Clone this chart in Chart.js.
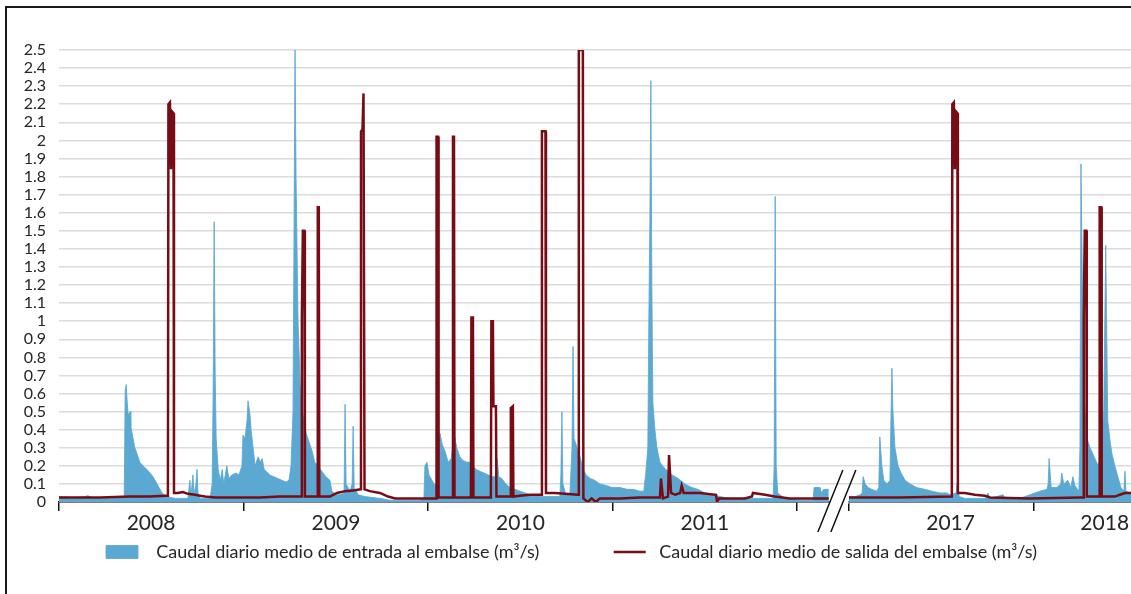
<!DOCTYPE html>
<html>
<head>
<meta charset="utf-8">
<script src="https://cdn.jsdelivr.net/npm/chart.js@4.4.1/dist/chart.umd.min.js"></script>
<style>
  html, body { margin: 0; padding: 0; background: #fff; overflow: hidden; }
  #wrap { position: relative; width: 1131px; height: 594px; }
  #frame { position: absolute; left: 5px; top: 6px; width: 1140px; height: 600px;
           border-left: 2px solid #1a1a1a; border-top: 2px solid #1a1a1a; pointer-events: none; }
  canvas { display: block; }
</style>
</head>
<body>
<div id="wrap">
  <canvas id="caudalChart" width="1131" height="594"></canvas>
  <div id="frame"></div>
</div>
<script>
// x = days along the axis (2008 starts at 0, the axis jumps from 2011 to 2017 at the break)
const yearLabels = ['2008', '2009', '2010', '2011', '2017', '2018'];
const yearLabelDays = [182, 548, 913, 1278, 1764, 2069];
const yearTickDays = [0, 365, 730, 1095, 1460, 1563, 1928];
const breakFrom = 1523, breakTo = 1563;
const yTicks = [0, 0.1, 0.2, 0.3, 0.4, 0.5, 0.6, 0.7, 0.8, 0.9, 1, 1.1, 1.2, 1.3, 1.4, 1.5, 1.6, 1.7, 1.8, 1.9, 2, 2.1, 2.2, 2.3, 2.4, 2.5];

// Caudal de entrada (m3/s)
const inDays = [
  0, 32, 51, 57, 65, 101, 121, 129,
  131, 133, 135, 137, 141, 142, 146, 150, 154, 160, 166, 174, 180, 186, 192, 198, 204, 212,
  230, 255, 259, 261, 265, 267, 271, 273, 275, 279,
  299, 303, 305, 307, 309, 311, 315, 319, 323, 326, 332, 336, 342, 350, 356, 362,
  364, 368, 372, 374, 378, 380, 384, 388, 394, 398, 402, 406, 410, 417, 425, 433, 441, 449, 455,
  459, 463, 467, 469, 473, 477, 481, 485, 489, 495, 501, 506, 512, 520, 528, 536,
  540, 548, 556, 564, 566, 568, 576, 580, 582, 584, 592, 605, 635, 655, 714, 722,
  724, 728, 732, 738, 744, 748, 750, 754, 758, 764, 770, 776, 780, 783, 787, 793, 799, 807, 813, 819, 825,
  833, 841, 849, 857, 863, 867, 870, 876, 884, 892, 902, 912, 922, 932, 952, 971, 991,
  993, 995, 997, 1003, 1011, 1015, 1017, 1019, 1023, 1027, 1031, 1037, 1043, 1051, 1060, 1070, 1084, 1094, 1110, 1124, 1136, 1149, 1157,
  1161, 1165, 1167, 1169, 1171, 1173, 1175, 1179, 1183, 1189, 1197, 1205, 1213, 1225, 1238, 1252, 1264, 1278, 1292, 1308, 1327, 1387,
  1413, 1415, 1417, 1419, 1422, 1436, 1466, 1492, 1494, 1506, 1508, 1513, 1521, 1523,
  1543,
  1563, 1575, 1585, 1589, 1591, 1595, 1601, 1608, 1618, 1622, 1624, 1628, 1632, 1638, 1644,
  1646, 1648, 1650, 1654, 1660, 1666, 1674, 1684, 1697, 1713, 1727, 1743, 1757, 1763, 1775, 1777, 1781,
  1792, 1812, 1832, 1838, 1842, 1868, 1872, 1901, 1921, 1941, 1955, 1957, 1959, 1963,
  1974, 1982, 1984, 1988, 1996, 2002, 2006, 2010, 2018, 2020, 2022, 2024, 2028, 2034, 2040, 2048, 2056,
  2061, 2067, 2071, 2075, 2079, 2083, 2089, 2095, 2101, 2107, 2109, 2111, 2121
];
const inFlow = [
  0.03, 0.025, 0.03, 0.035, 0.025, 0.02, 0.025, 0.03,
  0.62, 0.65, 0.55, 0.48, 0.5, 0.42, 0.36, 0.3, 0.27, 0.22, 0.2, 0.18, 0.16, 0.14, 0.11, 0.08, 0.05, 0.03,
  0.02, 0.02, 0.12, 0.03, 0.15, 0.04, 0.1, 0.18, 0.05, 0.02,
  0.02, 0.1, 0.6, 1.55, 0.7, 0.35, 0.18, 0.12, 0.18, 0.1, 0.2, 0.13, 0.15, 0.16, 0.15, 0.2,
  0.37, 0.35, 0.45, 0.56, 0.48, 0.4, 0.3, 0.2, 0.25, 0.22, 0.24, 0.18, 0.17, 0.15, 0.14, 0.13, 0.12, 0.11, 0.12,
  0.2, 0.5, 2.5, 1.8, 1.0, 0.65, 0.5, 0.45, 0.38, 0.33, 0.28, 0.22, 0.2, 0.17, 0.14, 0.12,
  0.06, 0.04, 0.04, 0.05, 0.54, 0.1, 0.06, 0.1, 0.42, 0.08, 0.04, 0.03, 0.02, 0.01, 0.01, 0.02,
  0.2, 0.22, 0.15, 0.12, 0.09, 0.12, 0.3, 0.38, 0.32, 0.28, 0.22, 0.24, 0.33, 0.36, 0.3, 0.25, 0.23, 0.22, 0.22, 0.2, 0.18,
  0.17, 0.16, 0.15, 0.14, 0.14, 0.24, 0.14, 0.13, 0.1, 0.08, 0.07, 0.06, 0.05, 0.04, 0.03, 0.03, 0.03,
  0.15, 0.5, 0.1, 0.04, 0.05, 0.3, 0.86, 0.35, 0.32, 0.28, 0.25, 0.18, 0.15, 0.13, 0.12, 0.1, 0.09, 0.08, 0.08, 0.07, 0.07, 0.06, 0.06,
  0.16, 0.3, 1.0, 1.53, 2.33, 1.2, 0.55, 0.4, 0.3, 0.22, 0.19, 0.17, 0.15, 0.13, 0.1, 0.08, 0.07, 0.05, 0.04, 0.03, 0.02, 0.02,
  0.02, 0.2, 1.69, 0.2, 0.05, 0.02, 0.01, 0.01, 0.08, 0.08, 0.05, 0.07, 0.07, 0.07,
  null,
  0.03, 0.03, 0.04, 0.05, 0.14, 0.1, 0.08, 0.07, 0.06, 0.08, 0.36, 0.2, 0.12, 0.1, 0.12,
  0.45, 0.74, 0.5, 0.3, 0.2, 0.16, 0.12, 0.1, 0.08, 0.07, 0.06, 0.05, 0.05, 0.04, 0.05, 0.1, 0.03,
  0.02, 0.02, 0.02, 0.05, 0.02, 0.04, 0.02, 0.02, 0.04, 0.06, 0.07, 0.1, 0.24, 0.08,
  0.08, 0.1, 0.16, 0.1, 0.12, 0.08, 0.14, 0.09, 0.06, 0.3, 1.87, 1.4, 0.6, 0.35, 0.3, 0.25, 0.2,
  0.25, 0.5, 1.42, 0.45, 0.35, 0.27, 0.2, 0.14, 0.08, 0.06, 0.17, 0.06, 0.05
];

// Caudal de salida (m3/s)
const outDays = [
  0, 81, 141, 180, 210, 215.5, 216.5, 219.5, 221.5, 223.5, 226.5, 227.5,
  235, 245, 255, 269, 279, 289, 309, 358, 398, 437, 457, 479.5, 480.5, 482.5, 485.5, 486.5,
  511, 512, 514, 515, 536, 550, 566, 586, 596.5, 597.5, 600.5, 602.5, 604.5, 615, 635, 651, 665, 714,
  746, 747, 750, 751, 778.5, 779.5, 781.5, 782.5, 815, 816, 819, 820, 854.5, 855.5, 858.5, 859.5, 864.5, 865.5,
  893, 894, 898, 899, 912, 932, 954.5, 955.5, 962.5, 963.5, 981, 1001, 1027.5, 1028.5, 1036.5, 1037.5,
  1046, 1054, 1062, 1070, 1110, 1149, 1189, 1191, 1195, 1205, 1207, 1211, 1219, 1229, 1232, 1236, 1268, 1300, 1302, 1306, 1327, 1357, 1371, 1373, 1397, 1416, 1446, 1523,
  1543,
  1563, 1664, 1766.5, 1767.5, 1770.5, 1772.5, 1774.5, 1777.5, 1778.5, 1792, 1812, 1832, 1842, 1921,
  2020, 2026.5, 2027.5, 2029.5, 2032.5, 2033.5, 2058, 2059, 2062, 2063, 2089, 2099, 2109, 2121
];
const outFlow = [
  0.025, 0.025, 0.03, 0.03, 0.035, 0.035, 2.2, 2.21, 1.84, 2.16, 2.15, 0.05,
  0.05, 0.055, 0.045, 0.04, 0.035, 0.03, 0.025, 0.025, 0.025, 0.03, 0.03, 0.03, 1.02, 1.5, 1.5, 0.03,
  0.03, 1.63, 1.63, 0.03, 0.03, 0.05, 0.06, 0.065, 0.07, 2.05, 2.06, 2.26, 0.07, 0.06, 0.05, 0.03, 0.02, 0.02,
  0.02, 2.02, 2.02, 0.025, 0.025, 2.02, 2.02, 0.025, 0.025, 1.02, 1.02, 0.025, 0.025, 1.0, 1.0, 0.53, 0.53, 0.03,
  0.03, 0.52, 0.53, 0.03, 0.035, 0.04, 0.04, 2.05, 2.05, 0.05, 0.05, 0.045, 0.04, 2.5, 2.5, 0.02,
  0, 0.02, 0, 0.02, 0.02, 0.025, 0.025, 0.13, 0.02, 0.03, 0.26, 0.05, 0.04, 0.05, 0.09, 0.05, 0.05, 0.04, 0, 0.02, 0.02, 0.02, 0.03, 0.05, 0.04, 0.03, 0.02, 0.02,
  null,
  0.025, 0.025, 0.03, 2.2, 2.21, 1.84, 2.16, 2.15, 0.05, 0.05, 0.04, 0.035, 0.025, 0.02,
  0.025, 0.025, 1.02, 1.5, 1.5, 0.03, 0.03, 1.63, 1.63, 0.03, 0.03, 0.04, 0.05, 0.05
];

const blue = '#5ba8d2';
const maroon = '#780c14';
const textColor = '#262626';

// gap in the axis line plus the two slashes
const axisBreak = {
  id: 'axisBreak',
  afterDraw(chart) {
    const ctx = chart.ctx;
    const xs = chart.scales.x;
    const y0 = chart.chartArea.bottom;
    const a = xs.getPixelForValue(breakFrom);
    const b = xs.getPixelForValue(breakTo);
    const cx = (a + b) / 2;
    ctx.save();
    ctx.fillStyle = '#fff';
    ctx.fillRect(a + 0.5, y0 - 2, b - a - 1, 4);
    ctx.strokeStyle = '#111';
    ctx.lineWidth = 1.5;
    ctx.beginPath();
    ctx.moveTo(cx - 21, y0 + 30); ctx.lineTo(cx + 4, y0 - 32);
    ctx.moveTo(cx - 8, y0 + 30); ctx.lineTo(cx + 17, y0 - 32);
    ctx.stroke();
    ctx.restore();
  }
};

const ctx = document.getElementById('caudalChart');

new Chart(ctx, {
  type: 'line',
  data: {
    datasets: [{
      label: '  Caudal diario medio de entrada al embalse (m³/s)              ',
      data: inDays.map((d, i) => ({ x: d, y: inFlow[i] })),
      borderColor: 'rgba(91,168,210,0.85)',
      backgroundColor: blue,
      borderWidth: 1,
      fill: 'origin',
      pointRadius: 0,
      pointStyle: 'rect',
      tension: 0,
      order: 2
    }, {
      label: ' Caudal diario medio de salida del embalse (m³/s)',
      data: outDays.map((d, i) => ({ x: d, y: outFlow[i] })),
      borderColor: maroon,
      backgroundColor: maroon,
      borderWidth: 2.5,
      fill: false,
      pointRadius: 0,
      pointStyle: 'line',
      tension: 0,
      order: 1
    }]
  },
  options: {
    responsive: false,
    animation: false,
    devicePixelRatio: 1,
    spanGaps: false,
    layout: { padding: { top: 50, left: 12, right: 0, bottom: 23 } },
    elements: { line: { borderJoinStyle: 'miter' } },
    plugins: {
      tooltip: { enabled: false },
      legend: {
        position: 'bottom',
        labels: {
          usePointStyle: true,
          pointStyleWidth: 32,
          boxHeight: 13,
          padding: 10,
          color: textColor,
          font: { family: 'Lato', size: 18 },
          sort: (a, b) => a.datasetIndex - b.datasetIndex
        }
      }
    },
    scales: {
      x: {
        type: 'linear',
        min: 0,
        max: 2121,
        afterBuildTicks: (scale) => {
          scale.ticks = yearTickDays.concat(yearLabelDays)
            .sort((a, b) => a - b)
            .map(v => ({ value: v }));
        },
        afterFit: (scale) => { scale.height = 31; },
        ticks: {
          autoSkip: false,
          maxRotation: 0,
          padding: 0,
          color: textColor,
          font: { family: 'Lato', size: 21 },
          callback: (value) => {
            const i = yearLabelDays.indexOf(value);
            return i >= 0 ? yearLabels[i] : '';
          }
        },
        grid: {
          drawOnChartArea: false,
          drawTicks: true,
          tickLength: 9,
          lineWidth: 1.5,
          color: (c) => (c.tick && yearTickDays.includes(c.tick.value)) ? '#111' : 'rgba(0,0,0,0)'
        },
        border: { display: true, color: '#111', width: 1.5 }
      },
      y: {
        min: 0,
        max: 2.5,
        afterBuildTicks: (scale) => {
          scale.ticks = yTicks.map(v => ({ value: v }));
        },
        afterFit: (scale) => { scale.width = 47; },
        ticks: {
          autoSkip: false,
          padding: 13,
          color: textColor,
          font: { family: 'Lato', size: 16 },
          callback: (value) => String(Math.round(value * 10) / 10)
        },
        grid: {
          color: '#dcdcdc',
          lineWidth: 1.5,
          drawTicks: false
        },
        border: { display: false }
      }
    }
  },
  plugins: [axisBreak]
});
</script>
</body>
</html>
